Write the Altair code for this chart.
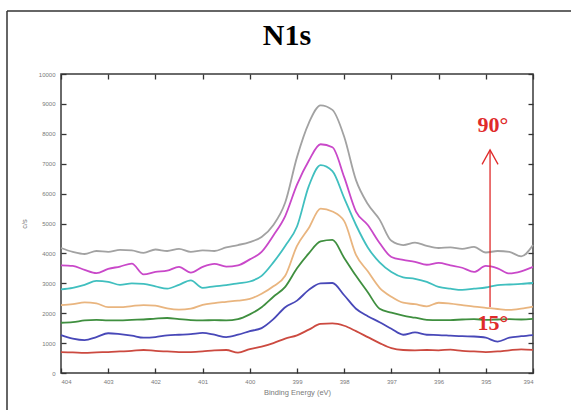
import altair as alt
import pandas as pd

# Binding energy grid (eV)
energy = [404.0, 403.75, 403.5, 403.25, 403.0, 402.75, 402.5, 402.25, 402.0, 401.75,
          401.5, 401.25, 401.0, 400.75, 400.5, 400.25, 400.0, 399.75, 399.5, 399.25,
          399.0, 398.75, 398.5, 398.25, 398.0, 397.75, 397.5, 397.25, 397.0, 396.75,
          396.5, 396.25, 396.0, 395.75, 395.5, 395.25, 395.0, 394.75, 394.5, 394.25,
          394.0]

# counts per second, one list per take-off angle (bottom = 15°, top = 90°)
red = [700, 690, 670, 690, 700, 720, 740, 770, 740, 720,
       700, 700, 720, 760, 770, 680, 800, 880, 1000, 1150,
       1260, 1450, 1640, 1660, 1580, 1400, 1200, 1000, 830, 770,
       760, 770, 760, 780, 740, 720, 700, 720, 760, 790, 770]
blue = [1270, 1150, 1100, 1200, 1330, 1300, 1250, 1180, 1200, 1260,
        1280, 1300, 1340, 1280, 1200, 1280, 1400, 1500, 1800, 2200,
        2420, 2780, 3000, 3010, 2600, 2150, 1900, 1700, 1480, 1280,
        1360, 1280, 1270, 1250, 1230, 1220, 1180, 1050, 1180, 1230, 1270]
green = [1680, 1700, 1760, 1780, 1760, 1760, 1780, 1790, 1820, 1840,
         1800, 1770, 1760, 1770, 1760, 1800, 1960, 2200, 2550, 2880,
         3500, 4000, 4400, 4450, 3850, 3250, 2700, 2150, 2020, 1920,
         1850, 1780, 1770, 1770, 1790, 1800, 1780, 1790, 1800, 1790, 1810]
tan = [2270, 2300, 2360, 2330, 2200, 2200, 2240, 2270, 2250, 2160,
       2120, 2150, 2280, 2340, 2380, 2420, 2480, 2650, 2900, 3250,
       4250, 4850, 5500, 5400, 5080, 3950, 3400, 2850, 2550, 2350,
       2300, 2230, 2350, 2320, 2270, 2220, 2180, 2140, 2110, 2150, 2220]
cyan = [2800, 2850, 2950, 3080, 3050, 2950, 3000, 2980, 2900, 2820,
        2950, 3100, 2850, 2900, 2940, 3000, 3060, 3250, 3700, 4250,
        4900, 6250, 6950, 6750, 5850, 4950, 4200, 3700, 3380, 3200,
        3150, 3050, 2880, 2820, 2780, 2820, 2860, 2940, 2960, 2980, 3010]
magenta = [3600, 3580, 3450, 3340, 3480, 3560, 3660, 3300, 3380, 3420,
           3550, 3360, 3550, 3650, 3560, 3600, 3800, 4050, 4600, 5250,
           6300, 7100, 7650, 7550, 6550, 5400, 4950, 4350, 3880, 3780,
           3720, 3620, 3680, 3600, 3520, 3380, 3580, 3500, 3330, 3400, 3550]
grey = [4180, 4050, 3980, 4080, 4050, 4120, 4100, 4020, 4130, 4080,
        4150, 4050, 4100, 4080, 4200, 4280, 4380, 4550, 4950, 5700,
        7220, 8360, 8950, 8800, 7900, 6450, 5650, 5130, 4420, 4280,
        4360, 4250, 4180, 4200, 4150, 4220, 4030, 4080, 4050, 3900, 4280]

series_names = ["s1", "s2", "s3", "s4", "s5", "s6", "s7"]
series_values = [red, blue, green, tan, cyan, magenta, grey]
series_colors = ["#cc4a40", "#4848b8", "#3f8f3f", "#e9b57f", "#40bfbf", "#c948c9", "#a2a2a2"]

x_ticks = [404, 403, 402, 401, 400, 399, 398, 397, 396, 395, 394]
y_ticks = [0, 1000, 2000, 3000, 4000, 5000, 6000, 7000, 8000, 9000, 10000]

chart_title = ["N1s"]

# annotation: arrow from 15° to 90°
arrow_x = [394.91]
arrow_y_from = [2210]
arrow_y_to = [7460]
label_text = ["90°", "15°"]
label_x = [394.85, 394.85]
label_y = [8300, 1680]

rows = []
for name, vals in zip(series_names, series_values):
    for e, v in zip(energy, vals):
        rows.append({"series": name, "energy": e, "cps": v})
df = pd.DataFrame(rows)

x_scale = alt.Scale(domain=[394, 404], reverse=True, nice=False, zero=False)
y_scale = alt.Scale(domain=[0, 10000], nice=False)

common_axis = dict(domain=False, grid=False, tickSize=5, tickColor="#333333", tickWidth=1.3, offset=-5)

lines = alt.Chart(df).mark_line(strokeWidth=1.8, interpolate="monotone").encode(
    x=alt.X("energy:Q", scale=x_scale,
            axis=alt.Axis(orient="bottom", values=x_ticks, format="d", title="Binding Energy (eV)",
                          labelPadding=5, titlePadding=4, **common_axis)),
    y=alt.Y("cps:Q", scale=y_scale,
            axis=alt.Axis(orient="left", values=y_ticks, format="d", title="c/s",
                          labelPadding=6, titlePadding=10, **common_axis)),
    color=alt.Color("series:N", scale=alt.Scale(domain=series_names, range=series_colors), legend=None),
)

mirror = alt.Chart(df).mark_line(opacity=0).encode(
    x=alt.X("energy:Q", scale=x_scale,
            axis=alt.Axis(orient="top", values=x_ticks, labels=False, title=None, **common_axis)),
    y=alt.Y("cps:Q", scale=y_scale,
            axis=alt.Axis(orient="right", values=y_ticks, labels=False, title=None, **common_axis)),
    detail="series:N",
)

arrow_df = pd.DataFrame({"x": arrow_x, "y": arrow_y_from, "y2": arrow_y_to})
arrow_line = alt.Chart(arrow_df).mark_rule(color="#e02a2a", strokeWidth=1.3).encode(
    x=alt.X("x:Q", scale=x_scale, axis=None),
    y=alt.Y("y:Q", scale=y_scale, axis=None),
    y2="y2:Q",
)
arrow_head = alt.Chart(arrow_df).mark_point(
    shape="M-1,1.8L0,0L1,1.8", size=256, filled=False, color="#e02a2a", strokeWidth=1.3, opacity=1
).encode(
    x=alt.X("x:Q", scale=x_scale, axis=None),
    y=alt.Y("y2:Q", scale=y_scale, axis=None),
)

labels_df = pd.DataFrame({"t": label_text, "x": label_x, "y": label_y})
labels = alt.Chart(labels_df).mark_text(
    font="Liberation Serif", fontSize=22, fontWeight="bold", color="#e02a2a",
    align="center", baseline="middle"
).encode(
    x=alt.X("x:Q", scale=x_scale, axis=None),
    y=alt.Y("y:Q", scale=y_scale, axis=None),
    text="t:N",
)

title_df = pd.DataFrame({"t": chart_title})
title_mark = alt.Chart(title_df).mark_text(
    font="Liberation Serif", fontSize=30, fontWeight="bold", color="black",
    align="center", baseline="alphabetic"
).encode(x=alt.value(226), y=alt.value(-29), text="t:N")

one = pd.DataFrame({"k": [0]})
border_left = alt.Chart(one).mark_rule(color="#333333", strokeWidth=1.5).encode(
    x=alt.value(-54), y=alt.value(-63), y2=alt.value(345))
border_top = alt.Chart(one).mark_rule(color="#333333", strokeWidth=1.5).encode(
    x=alt.value(-54), x2=alt.value(520), y=alt.value(-63))

chart = alt.layer(
    lines, mirror, arrow_line, arrow_head, labels, title_mark, border_left, border_top
).resolve_axis(x="independent", y="independent").properties(
    width=472, height=299,
    autosize=alt.AutoSizeParams(type="none"),
    padding={"left": 61, "top": 74, "right": 38, "bottom": 37},
).configure_view(
    stroke="#3a3a3a", strokeWidth=1.5
).configure_axis(
    labelFont="Liberation Sans", labelFontSize=6, labelColor="#7a7a7a",
    titleFont="Liberation Sans", titleFontSize=7.5, titleColor="#7a7a7a", titleFontWeight="normal",
)

chart.save("out.html", embed_options={"renderer": "svg", "actions": False})
